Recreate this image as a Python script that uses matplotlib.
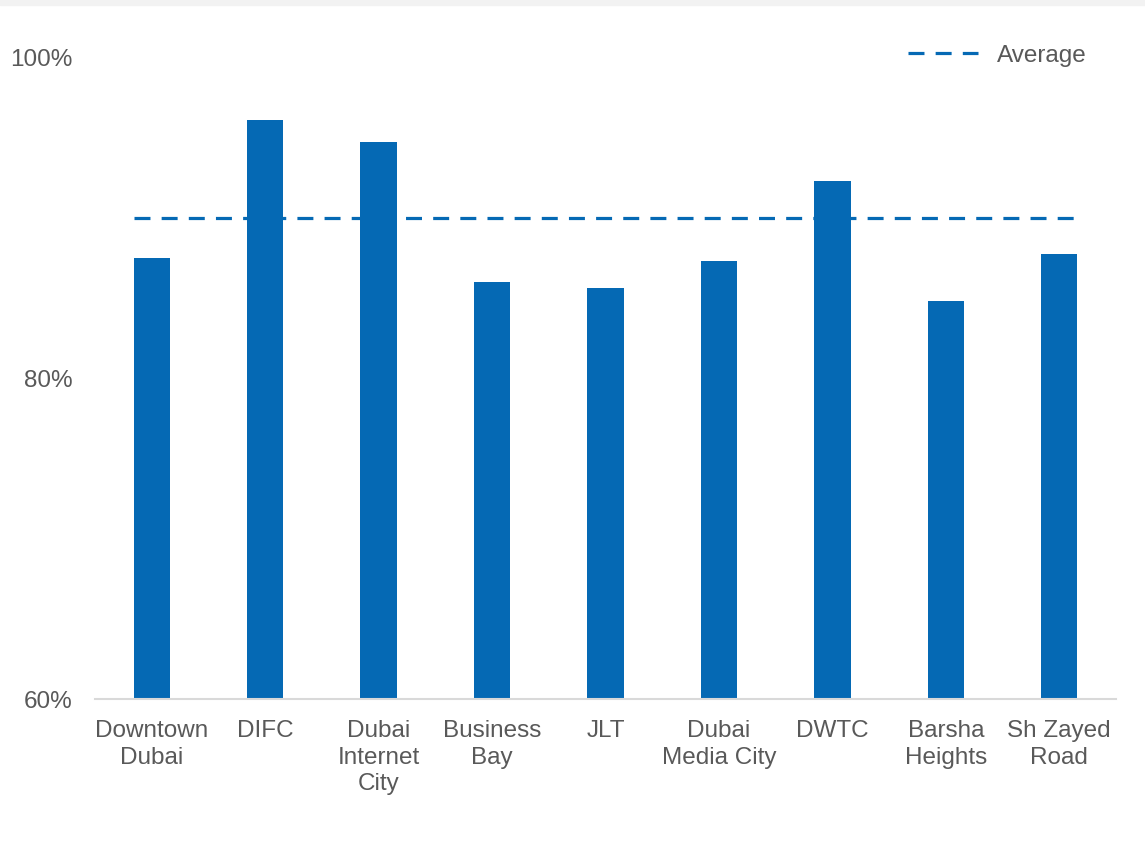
import matplotlib
matplotlib.use('Agg')
import matplotlib.pyplot as plt
from matplotlib.patches import Rectangle
from matplotlib.ticker import FuncFormatter

plt.rcParams['font.family'] = ['Liberation Sans', 'DejaVu Sans']

areas = ['Downtown\nDubai', 'DIFC', 'Dubai\nInternet\nCity', 'Business\nBay', 'JLT',
         'Dubai\nMedia City', 'DWTC', 'Barsha\nHeights', 'Sh Zayed\nRoad']
occupancy = [87.5, 96.1, 94.7, 86.0, 85.6, 87.3, 92.3, 84.8, 87.7]
average = 90.0
yticks = [60, 80, 100]

blue = '#0569b4'
grey_txt = '#595959'
fs = 17.5

fig = plt.figure(figsize=(11.45, 8.5), dpi=100)
fig.patches.append(Rectangle((0, 0.994), 1, 0.006, transform=fig.transFigure,
                             color='#f2f2f2', zorder=0))
ax = fig.add_axes([0.083, 0.1776, 0.8917, 0.7553])

x = range(len(areas))
ax.bar(x, occupancy, width=0.32, color=blue, zorder=2)
ax.hlines(average, -0.16, len(areas) - 1 + 0.16, colors=blue, linewidth=2.3,
          linestyles=(0, (5, 3.5)), zorder=3, label='Average')

ax.set_xlim(-0.5, len(areas) - 0.5)
ax.set_ylim(60, 100)
ax.set_yticks(yticks)
ax.yaxis.set_major_formatter(FuncFormatter(lambda v, p: f'{v:.0f}%'))
ax.set_xticks(list(x))
ax.set_xticklabels(areas, linespacing=1.28)

for s in ['top', 'right', 'left']:
    ax.spines[s].set_visible(False)
ax.spines['bottom'].set_color('#d9d9d9')
ax.spines['bottom'].set_linewidth(1.5)
ax.tick_params(axis='both', length=0, labelsize=fs, colors=grey_txt)
ax.tick_params(axis='y', pad=16)
ax.tick_params(axis='x', pad=15)

leg = ax.legend(loc='upper right', bbox_to_anchor=(0.993, 1.053), frameon=False,
                fontsize=fs, handlelength=2.9, handletextpad=0.78)
for t in leg.get_texts():
    t.set_color(grey_txt)

fig.savefig('out.png', dpi=100)
